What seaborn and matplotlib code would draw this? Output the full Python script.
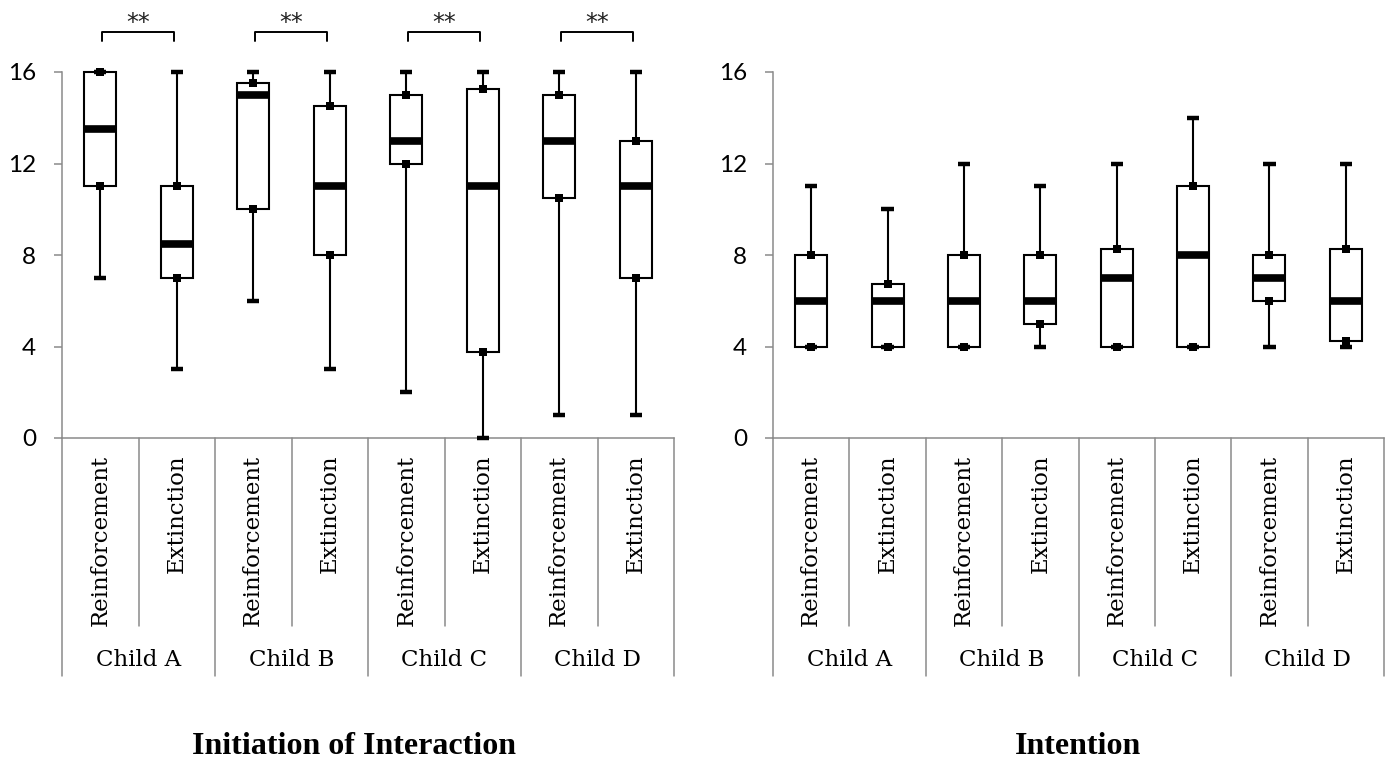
import numpy as np
import pandas as pd
import matplotlib
matplotlib.use("Agg")
import matplotlib.pyplot as plt
import seaborn as sns

# ---------------- data ----------------
children = ["Child A", "Child B", "Child C", "Child D"]
conditions = ["Reinforcement", "Extinction"]

# Initiation of Interaction (per child: Reinforcement, Extinction)
init_min = [7, 3, 6, 3, 2, 0, 1, 1]
init_q1 = [11, 7, 10, 8, 12, 3.75, 10.5, 7]
init_med = [13.5, 8.5, 15, 11, 13, 11, 13, 11]
init_q3 = [16, 11, 15.5, 14.5, 15, 15.25, 15, 13]
init_max = [16, 16, 16, 16, 16, 16, 16, 16]

# Intention
int_min = [4, 4, 4, 4, 4, 4, 4, 4]
int_q1 = [4, 4, 4, 5, 4, 4, 6, 4.25]
int_med = [6, 6, 6, 6, 7, 8, 7, 6]
int_q3 = [8, 6.75, 8, 8, 8.25, 11, 8, 8.25]
int_max = [11, 10, 12, 11, 12, 14, 12, 12]

y_ticks = [0, 4, 8, 12, 16]
titles = ["Initiation of Interaction", "Intention"]
sig_label = "**"

# ---------------- style ----------------
sns.set_theme(style="white")
plt.rcParams["font.family"] = ["Lato", "DejaVu Sans"]
plt.rcParams["text.color"] = "black"

GRAY = "#8a8a8a"
SERIF = ["DejaVu Serif"]

fig = plt.figure(figsize=(13.86, 7.74), dpi=100)
ax1 = fig.add_axes([62 / 1386, 336 / 774, 612 / 1386, 366 / 774])
ax2 = fig.add_axes([773 / 1386, 336 / 774, 611 / 1386, 366 / 774])

keys = [f"{c}|{k}" for c in children for k in conditions]


def draw_panel(ax, mins, q1s, meds, q3s, maxs, sig):
    rows = []
    for key, a, b, c, d, e in zip(keys, mins, q1s, meds, q3s, maxs):
        for v in (a, b, c, d, e):
            rows.append({"key": key, "value": v})
    df = pd.DataFrame(rows)

    sns.boxplot(
        data=df, x="key", y="value", order=keys, ax=ax,
        width=0.42, whis=(0, 100), showfliers=False,
        color="white", linecolor="black", linewidth=1.5,
        medianprops=dict(linewidth=5.5, color="black", solid_capstyle="butt"),
        whiskerprops=dict(linewidth=1.5, color="black"),
        capprops=dict(linewidth=3.2, color="black", gid="cap",
                      solid_capstyle="butt"),
        boxprops=dict(edgecolor="black", linewidth=1.5),
    )
    # shorten caps relative to box width
    for ln in ax.lines:
        if ln.get_gid() == "cap":
            xd = np.asarray(ln.get_xdata(), dtype=float)
            cx = xd.mean()
            ln.set_xdata([cx - 0.08, cx + 0.08])

    # quartile square markers
    qdf = pd.DataFrame({
        "key": keys + keys,
        "value": list(q1s) + list(q3s),
    })
    sns.stripplot(data=qdf, x="key", y="value", order=keys, ax=ax,
                  jitter=False, marker="s", size=5.5, color="black",
                  linewidth=0, zorder=5)

    for art in list(ax.lines) + list(ax.collections) + list(ax.patches):
        art.set_clip_on(False)

    ax.set_xlim(-0.5, len(keys) - 0.5)
    ax.set_ylim(0, 16)
    ax.set_yticks(y_ticks)
    ax.set_yticklabels([str(t) for t in y_ticks])
    ax.set_xticks(range(len(keys)))
    ax.set_xticklabels(conditions * len(children), rotation=90,
                       fontsize=16.5, family=SERIF, color="black")
    ax.tick_params(axis="x", length=0, pad=12)
    ax.tick_params(axis="y", length=5.8, width=1.1, color=GRAY, pad=13,
                   labelsize=17.5, left=True, labelcolor="black")
    ax.set_xlabel("")
    ax.set_ylabel("")
    for s in ("top", "right"):
        ax.spines[s].set_visible(False)
    for s in ("left", "bottom"):
        ax.spines[s].set_color(GRAY)
        ax.spines[s].set_linewidth(1.1)
        ax.spines[s].set_zorder(0.5)

    tr = ax.get_xaxis_transform()
    for i, b in enumerate(np.arange(-0.5, len(keys), 1.0)):
        low = -0.65 if i % 2 == 0 else -0.514
        ax.plot([b, b], [0, low], transform=tr, clip_on=False,
                color=GRAY, lw=1.1, zorder=0.5)
    for g, child in enumerate(children):
        ax.text(2 * g + 0.5, -0.607, child, transform=tr, ha="center",
                va="center", fontsize=16.5, family=SERIF, color="black")

    if sig:
        for g in range(len(children)):
            x0, x1 = 2 * g + 0.02, 2 * g + 0.97
            ax.plot([x0, x0, x1, x1], [17.36, 17.73, 17.73, 17.36],
                    clip_on=False, color="black", lw=1.4)
            ax.text(2 * g + 0.5, 17.82, sig_label, ha="center",
                    va="baseline", fontsize=17, family=["DejaVu Sans"],
                    color="#222222")


draw_panel(ax1, init_min, init_q1, init_med, init_q3, init_max, True)
draw_panel(ax2, int_min, int_q1, int_med, int_q3, int_max, False)

fig.text(354 / 1386, 27 / 774, titles[0], ha="center", va="center",
         fontsize=23, fontweight="bold", family=["Liberation Serif"],
         color="black")
fig.text(1078 / 1386, 27 / 774, titles[1], ha="center", va="center",
         fontsize=23, fontweight="bold", family=["Liberation Serif"],
         color="black")

fig.savefig("out.png", dpi=100)
